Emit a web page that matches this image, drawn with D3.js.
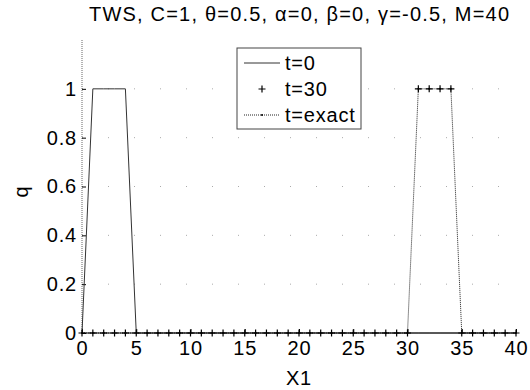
<!DOCTYPE html>
<html>
<head>
<meta charset="utf-8">
<script src="https://cdn.jsdelivr.net/npm/d3@7/dist/d3.min.js"></script>
<style>
  html, body { margin: 0; padding: 0; background: #fff; }
  svg { display: block; font-family: "Liberation Sans", Arial, sans-serif; }
</style>
</head>
<body>
<div id="chart"></div>
<script>
// grid points and solution values
const xGrid = [0, 1, 2, 3, 4, 5, 6, 7, 8, 9, 10, 11, 12, 13, 14, 15, 16, 17, 18, 19, 20,
               21, 22, 23, 24, 25, 26, 27, 28, 29, 30, 31, 32, 33, 34, 35, 36, 37, 38, 39, 40];
const qInitial = [0, 1, 1, 1, 1, 0, 0, 0, 0, 0, 0, 0, 0, 0, 0, 0, 0, 0, 0, 0, 0,
                  0, 0, 0, 0, 0, 0, 0, 0, 0, 0, 0, 0, 0, 0, 0, 0, 0, 0, 0, 0];
const qT30 = [0, 0, 0, 0, 0, 0, 0, 0, 0, 0, 0, 0, 0, 0, 0, 0, 0, 0, 0, 0, 0,
              0, 0, 0, 0, 0, 0, 0, 0, 0, 0, 1, 1, 1, 1, 0, 0, 0, 0, 0, 0];
const qExact = [0, 0, 0, 0, 0, 0, 0, 0, 0, 0, 0, 0, 0, 0, 0, 0, 0, 0, 0, 0, 0,
                0, 0, 0, 0, 0, 0, 0, 0, 0, 0, 1, 1, 1, 1, 0, 0, 0, 0, 0, 0];

const xTicks = [0, 5, 10, 15, 20, 25, 30, 35, 40];
const yTicks = [0, 0.2, 0.4, 0.6, 0.8, 1];
const legendLabels = ['t=0', 't=30', 't=exact'];

const titleText = 'TWS, C=1, \u03b8=0.5, \u03b1=0, \u03b2=0, \u03b3=-0.5, M=40';

const width = 530, height = 390;
const margin = { top: 40, right: 14, bottom: 57, left: 82 };
const w = width - margin.left - margin.right;
const h = height - margin.top - margin.bottom;
const fontSize = 20;
const spacing = '0.8px';

const svg = d3.select('#chart').append('svg')
    .attr('width', width)
    .attr('height', height);

const g = svg.append('g')
    .attr('transform', `translate(${margin.left},${margin.top})`);

const x = d3.scaleLinear().domain([0, 40]).range([0, w]);
const y = d3.scaleLinear().domain([0, 1.2]).range([h, 0]);

// dotted grid lines
g.append('g')
    .selectAll('line')
    .data(yTicks.filter(d => d > 0))
    .enter()
    .append('line')
    .attr('x1', 0)
    .attr('x2', w)
    .attr('y1', d => y(d))
    .attr('y2', d => y(d))
    .attr('stroke', '#aaa')
    .attr('stroke-width', 1)
    .attr('stroke-dasharray', '1,25');

// y axis: dotted line, tick marks inward
const yAxis = d3.axisLeft(y)
    .tickValues(yTicks)
    .tickSize(-4)
    .tickPadding(5)
    .tickFormat(d => d3.format('~g')(d));

const yG = g.append('g').call(yAxis);
yG.select('.domain')
    .attr('stroke', '#666')
    .attr('stroke-dasharray', '1,1')
    .attr('d', `M0,0V${h}`);
yG.selectAll('.tick line').attr('stroke', '#000');
yG.selectAll('.tick text')
    .attr('font-size', fontSize)
    .attr('letter-spacing', spacing)
    .attr('fill', '#000')
    .attr('font-family', '"Liberation Sans", Arial, sans-serif');

// x axis
const xAxis = d3.axisBottom(x)
    .tickValues(xTicks)
    .tickSize(-4)
    .tickPadding(8)
    .tickFormat(d3.format('d'));

const xG = g.append('g')
    .attr('transform', `translate(0,${h})`)
    .call(xAxis);
xG.select('.domain')
    .attr('stroke', '#000')
    .attr('d', `M0,0H${w}`);
xG.selectAll('.tick line').attr('stroke', '#000');
xG.selectAll('.tick text')
    .attr('font-size', fontSize)
    .attr('letter-spacing', spacing)
    .attr('fill', '#000')
    .attr('font-family', '"Liberation Sans", Arial, sans-serif');

const lineGen = vals => d3.line()
    .x((d, i) => x(xGrid[i]))
    .y(d => y(d))(vals);

// t=0 solid line
g.append('path')
    .attr('d', lineGen(qInitial))
    .attr('fill', 'none')
    .attr('stroke', '#333')
    .attr('stroke-width', 1);

// t=exact dotted line with dot markers
g.append('path')
    .attr('d', lineGen(qExact))
    .attr('fill', 'none')
    .attr('stroke', '#222')
    .attr('stroke-width', 1)
    .attr('stroke-dasharray', '1,1');

g.selectAll('.dot')
    .data(qExact)
    .enter()
    .append('circle')
    .attr('class', 'dot')
    .attr('cx', (d, i) => x(xGrid[i]))
    .attr('cy', d => y(d))
    .attr('r', 1)
    .attr('fill', '#000');

// t=30 plus markers
const plus = 3.5;
g.selectAll('.plus')
    .data(qT30)
    .enter()
    .append('path')
    .attr('class', 'plus')
    .attr('d', (d, i) => {
        const px = x(xGrid[i]), py = y(d);
        return `M${px - plus},${py}H${px + plus}M${px},${py - plus}V${py + plus}`;
    })
    .attr('stroke', '#000')
    .attr('stroke-width', 1.2);

// title and axis labels
svg.append('text')
    .attr('x', margin.left + w / 2)
    .attr('y', 21)
    .attr('text-anchor', 'middle')
    .attr('font-size', fontSize)
    .attr('textLength', 420)
    .attr('lengthAdjust', 'spacing')
    .text(titleText);

svg.append('text')
    .attr('x', margin.left + w / 2)
    .attr('y', 385)
    .attr('text-anchor', 'middle')
    .attr('font-size', fontSize)
    .attr('letter-spacing', spacing)
    .text('X1');

svg.append('text')
    .attr('transform', `translate(28,192) rotate(-90)`)
    .attr('text-anchor', 'middle')
    .attr('font-size', fontSize)
    .text('q');

// legend
const legend = svg.append('g').attr('transform', 'translate(237,48)');
legend.append('rect')
    .attr('width', 124)
    .attr('height', 81)
    .attr('fill', '#fff')
    .attr('stroke', '#444')
    .attr('stroke-width', 1);

const rowY = [15, 41, 67];
legendLabels.forEach((label, i) => {
    const row = legend.append('g').attr('transform', `translate(0,${rowY[i]})`);
    if (i === 0) {
        row.append('line').attr('x1', 7).attr('x2', 43)
            .attr('stroke', '#333').attr('stroke-width', 1);
    } else if (i === 1) {
        row.append('path')
            .attr('d', `M${25 - plus},0H${25 + plus}M25,${-plus}V${plus}`)
            .attr('stroke', '#000').attr('stroke-width', 1.2);
    } else {
        row.append('line').attr('x1', 7).attr('x2', 43)
            .attr('stroke', '#222').attr('stroke-width', 1)
            .attr('stroke-dasharray', '1,1');
        row.append('circle').attr('cx', 25).attr('r', 1).attr('fill', '#000');
    }
    row.append('text')
        .attr('x', 48)
        .attr('y', 7)
        .attr('font-size', fontSize)
        .attr('letter-spacing', spacing)
        .text(label);
});
</script>
</body>
</html>
